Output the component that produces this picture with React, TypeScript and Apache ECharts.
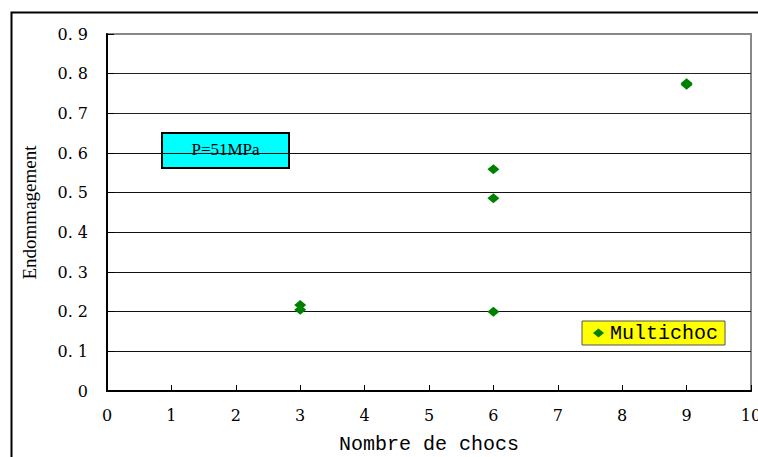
import React, { useEffect, useRef } from "react";
import * as echarts from "echarts";

const seriesName = "Multichoc";
const shockCounts = [3, 3, 6, 6, 6, 9, 9];
const damageValues = [0.217, 0.205, 0.559, 0.486, 0.2, 0.772, 0.776];
const annotationText = "P=51MPa";
const xAxisTitle = "Nombre de chocs";
const yAxisTitle = "Endommagement";

export default function App() {
  const ref = useRef<HTMLDivElement>(null);
  useEffect(() => {
    if (!ref.current) return;
    const chart = echarts.init(ref.current, undefined, { renderer: "svg" });
    const points = shockCounts.map((x, i) => [x, damageValues[i]]);
    const splitColors = ["#000", "#111", "#111", "#111", "#111", "#111", "#111", "#222", "#222", "#888"];
    chart.setOption({
      animation: false,
      backgroundColor: "#fff",
      grid: {
        left: 107,
        right: 7,
        top: 34,
        bottom: 66,
        outerBoundsMode: "none",
        containLabel: false,
        show: true,
        borderColor: "#888",
        borderWidth: 2,
        backgroundColor: "transparent",
      },
      legend: {
        data: [{ name: seriesName, icon: "diamond" }],
        left: 582,
        top: 321,
        orient: "horizontal",
        backgroundColor: "#ffff00",
        borderColor: "#555",
        borderWidth: 1,
        borderRadius: 0,
        padding: [2, 7, 2, 11],
        itemWidth: 11,
        itemHeight: 9,
        itemGap: 0,
        textStyle: {
          fontFamily: "Liberation Mono",
          fontSize: 20,
          color: "#000",
          padding: [0, 0, 0, 1],
        },
      },
      xAxis: {
        type: "value",
        min: 0,
        max: 10,
        interval: 1,
        name: xAxisTitle,
        nameLocation: "middle",
        nameGap: 43,
        nameTextStyle: { fontFamily: "Liberation Mono", fontSize: 20, color: "#000" },
        axisLine: { show: true, onZero: false, lineStyle: { color: "#000", width: 2 } },
        axisTick: { show: true, inside: true, length: 6, lineStyle: { color: "#000", width: 1 } },
        axisLabel: {
          margin: 16,
          fontFamily: "DejaVu Serif",
          fontSize: 16,
          color: "#000",
        },
        splitLine: { show: false },
      },
      yAxis: {
        type: "value",
        min: 0,
        max: 0.9,
        interval: 0.1,
        name: yAxisTitle,
        nameLocation: "middle",
        nameGap: 68,
        nameRotate: 90,
        nameTextStyle: { fontFamily: "Liberation Serif", fontSize: 19, color: "#000" },
        axisLine: { show: true, onZero: false, lineStyle: { color: "#000", width: 2 } },
        axisTick: { show: true, inside: true, length: 7, lineStyle: { color: "#000", width: 1 } },
        axisLabel: {
          margin: 19,
          fontFamily: "DejaVu Serif",
          fontSize: 16,
          color: "#000",
          formatter: (v: number) => (Math.abs(v) < 1e-9 ? "0" : v.toFixed(1).replace(".", ". ")),
        },
        splitLine: { show: true, lineStyle: { color: splitColors, width: 1 } },
      },
      series: [
        {
          name: seriesName,
          type: "scatter",
          data: points,
          symbol: "diamond",
          symbolSize: [12, 10],
          itemStyle: { color: "#008000", opacity: 1 },
          z: 5,
        },
      ],
      graphic: [
        {
          type: "rect",
          left: 9,
          top: 10,
          shape: { x: 0, y: 0, width: 800, height: 500 },
          style: { fill: "none", stroke: "#000", lineWidth: 2 },
          silent: true,
          z: 1,
        },
        {
          type: "group",
          left: 161,
          top: 132,
          z: 10,
          children: [
            {
              type: "rect",
              shape: { x: 0, y: 0, width: 127, height: 35 },
              style: { fill: "#00ffff", stroke: "#000", lineWidth: 2 },
            },
            {
              type: "text",
              x: 63.5,
              y: 16.5,
              style: {
                text: annotationText,
                fontFamily: "Liberation Serif",
                fontSize: 17,
                fill: "#000",
                align: "center",
                verticalAlign: "middle",
              },
            },
          ],
        },
      ],
    });
    return () => chart.dispose();
  }, []);
  return (
    <div
      ref={ref}
      style={{ position: "fixed", left: 0, top: 0, width: 758, height: 457 }}
    />
  );
}
